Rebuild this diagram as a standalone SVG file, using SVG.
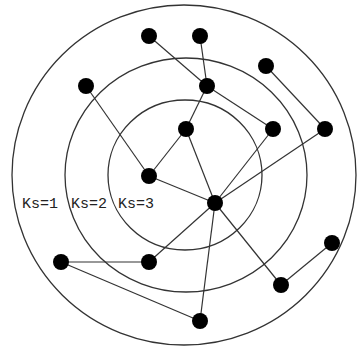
<svg xmlns="http://www.w3.org/2000/svg" width="358" height="350" viewBox="0 0 358 350">
<style>
.ring{fill:none;stroke:#333;stroke-width:1.3}
.e{stroke:#333;stroke-width:1.2;fill:none}
.n{fill:#000}
.lbl{font-family:"Liberation Mono","Courier New",monospace;font-size:15px;fill:#222}
</style>
<rect width="358" height="350" fill="#fff"/>
<g id="rings">
<ellipse class="ring" cx="184" cy="175" rx="172" ry="170"/>
<ellipse class="ring" cx="186" cy="175" rx="121" ry="117"/>
<ellipse class="ring" cx="185" cy="175" rx="77" ry="75"/>
</g>
<g id="connectors">
<line class="e" x1="149" y1="36" x2="207" y2="86"/>
<line class="e" x1="200" y1="36" x2="207" y2="86"/>
<line class="e" x1="207" y1="86" x2="186" y2="129"/>
<line class="e" x1="207" y1="86" x2="273" y2="129"/>
<line class="e" x1="266" y1="66" x2="325" y2="129"/>
<line class="e" x1="86" y1="86" x2="149" y2="176"/>
<line class="e" x1="149" y1="176" x2="186" y2="129"/>
<line class="e" x1="149" y1="176" x2="215" y2="203"/>
<line class="e" x1="186" y1="129" x2="215" y2="203"/>
<line class="e" x1="273" y1="129" x2="215" y2="203"/>
<line class="e" x1="325" y1="129" x2="215" y2="203"/>
<line class="e" x1="215" y1="203" x2="149" y2="262"/>
<line class="e" x1="215" y1="203" x2="281" y2="285"/>
<line class="e" x1="215" y1="203" x2="200" y2="321"/>
<line class="e" x1="281" y1="285" x2="332" y2="243"/>
<line class="e" x1="61" y1="262" x2="149" y2="262"/>
<line class="e" x1="61" y1="262" x2="200" y2="321"/>
</g>
<g id="n1"><circle class="n" cx="149" cy="36" r="8"/></g>
<g id="n2"><circle class="n" cx="200" cy="36" r="8"/></g>
<g id="n3"><circle class="n" cx="266" cy="66" r="8"/></g>
<g id="n4"><circle class="n" cx="86" cy="86" r="8"/></g>
<g id="n5"><circle class="n" cx="207" cy="86" r="8"/></g>
<g id="n6"><circle class="n" cx="186" cy="129" r="8"/></g>
<g id="n7"><circle class="n" cx="273" cy="129" r="8"/></g>
<g id="n8"><circle class="n" cx="325" cy="129" r="8"/></g>
<g id="n9"><circle class="n" cx="149" cy="176" r="8"/></g>
<g id="n10"><circle class="n" cx="215" cy="203" r="8"/></g>
<g id="n11"><circle class="n" cx="61" cy="262" r="8"/></g>
<g id="n12"><circle class="n" cx="149" cy="262" r="8"/></g>
<g id="n13"><circle class="n" cx="332" cy="243" r="8"/></g>
<g id="n14"><circle class="n" cx="281" cy="285" r="8"/></g>
<g id="n15"><circle class="n" cx="200" cy="321" r="8"/></g>
<g id="labels">
<text class="lbl" x="22" y="208">Ks=1</text>
<text class="lbl" x="71" y="208">Ks=2</text>
<text class="lbl" x="118" y="208">Ks=3</text>
</g>
</svg>
